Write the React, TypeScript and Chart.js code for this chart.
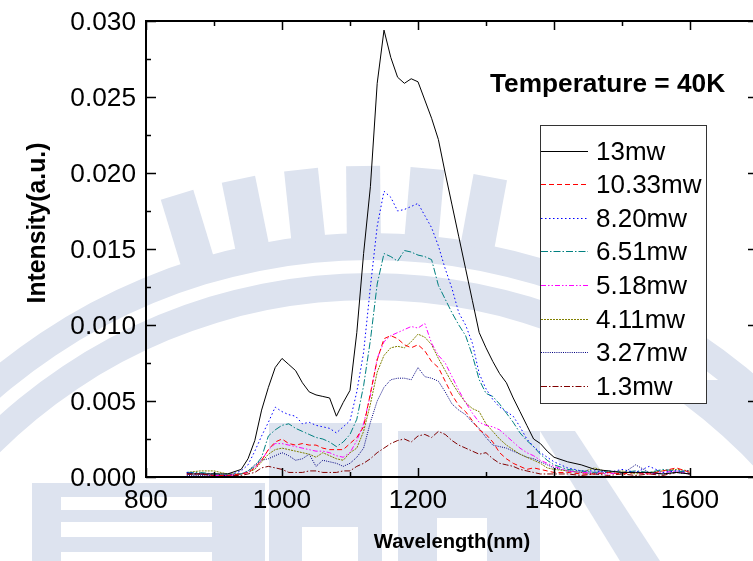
import React, { useEffect, useRef } from "react";
import { Chart, registerables } from "chart.js";

Chart.register(...registerables);

// ---------------- data ----------------
const WAVELENGTH = [
  860, 880, 900, 920,
  940, 950, 960, 970, 980, 990, 1000, 1010, 1020, 1030, 1040, 1050, 1060, 1070, 1080, 1090,
  1100, 1110, 1120, 1130, 1140, 1150, 1160, 1170, 1180, 1190, 1200, 1210, 1220, 1230, 1240,
  1250, 1260, 1270, 1280, 1290, 1300, 1310, 1320, 1330, 1340, 1350, 1360, 1370, 1380, 1390, 1400,
  1420, 1440, 1460, 1480, 1500, 1520, 1540, 1560, 1580, 1600,
];

const P_13 = [
  0.0002, 0.0002, 0.0002, 0.0002,
  0.0005, 0.0012, 0.0024, 0.0044, 0.0059, 0.0072, 0.0078, 0.0074, 0.0070, 0.0062, 0.0056, 0.0054, 0.0053, 0.0052, 0.0040, 0.0049,
  0.0057, 0.0095, 0.0147, 0.0191, 0.0259, 0.0294, 0.0276, 0.0263, 0.0259, 0.0262, 0.0260, 0.0248, 0.0236, 0.0222, 0.0200,
  0.0179, 0.0158, 0.0137, 0.0116, 0.0095, 0.0085, 0.0076, 0.0068, 0.0062, 0.0052, 0.0043, 0.0034, 0.0025, 0.0022, 0.0017, 0.0013,
  0.0010, 0.0008, 0.0005, 0.0004, 0.0003, 0.0003, 0.0003, 0.0002, 0.0003, 0.0002,
];

const P_10_33 = [
  0.0002, 0.0002, 0.0001, 0.0001,
  0.0002, 0.0003, 0.0006, 0.0011, 0.0018, 0.0023, 0.0025, 0.0022, 0.0021, 0.0022, 0.0021, 0.0021, 0.0019, 0.0018, 0.0018, 0.0018,
  0.0022, 0.0026, 0.0033, 0.0055, 0.0077, 0.0091, 0.0093, 0.0091, 0.0087, 0.0085, 0.0087, 0.0083, 0.0076, 0.0072, 0.0063,
  0.0054, 0.0047, 0.0043, 0.0037, 0.0031, 0.0028, 0.0023, 0.0016, 0.0012, 0.0009, 0.0007, 0.0005, 0.0006, 0.0005, 0.0004, 0.0003,
  0.0003, 0.0002, 0.0002, 0.0003, 0.0002, 0.0003, 0.0002, 0.0004, 0.0006, 0.0003,
];

const P_8_20 = [
  0.0003, 0.0002, 0.0002, 0.0001,
  0.0004, 0.0008, 0.0017, 0.0027, 0.0036, 0.0046, 0.0043, 0.0041, 0.0040, 0.0035, 0.0036, 0.0034, 0.0033, 0.0032, 0.0029, 0.0033,
  0.0037, 0.0056, 0.0082, 0.0125, 0.0165, 0.0188, 0.0184, 0.0175, 0.0176, 0.0178, 0.0180, 0.0172, 0.0164, 0.0152, 0.0137,
  0.0124, 0.0108, 0.0100, 0.0088, 0.0068, 0.0058, 0.0051, 0.0046, 0.0043, 0.0040, 0.0033, 0.0025, 0.0020, 0.0016, 0.0013, 0.0010,
  0.0006, 0.0004, 0.0004, 0.0003, 0.0005, 0.0003, 0.0007, 0.0003, 0.0004, 0.0004,
];

const P_6_51 = [
  0.0003, 0.0003, 0.0002, 0.0002,
  0.0002, 0.0004, 0.0007, 0.0013, 0.0027, 0.0031, 0.0034, 0.0035, 0.0032, 0.0030, 0.0028, 0.0026, 0.0025, 0.0023, 0.0020, 0.0023,
  0.0028, 0.0038, 0.0060, 0.0090, 0.0127, 0.0147, 0.0145, 0.0142, 0.0149, 0.0148, 0.0146, 0.0145, 0.0143, 0.0126, 0.0117,
  0.0108, 0.0100, 0.0093, 0.0080, 0.0064, 0.0055, 0.0053, 0.0048, 0.0042, 0.0036, 0.0029, 0.0024, 0.0020, 0.0015, 0.0011, 0.0008,
  0.0005, 0.0004, 0.0003, 0.0004, 0.0003, 0.0004, 0.0003, 0.0005, 0.0004, 0.0003,
];

const P_5_18 = [
  0.0002, 0.0002, 0.0001, 0.0001,
  0.0002, 0.0003, 0.0006, 0.0011, 0.0018, 0.0022, 0.0022, 0.0021, 0.0020, 0.0019, 0.0018, 0.0017, 0.0017, 0.0016, 0.0014, 0.0013,
  0.0016, 0.0024, 0.0035, 0.0054, 0.0078, 0.0089, 0.0093, 0.0095, 0.0097, 0.0099, 0.0098, 0.0101, 0.0088, 0.0080, 0.0075,
  0.0066, 0.0057, 0.0049, 0.0042, 0.0036, 0.0034, 0.0033, 0.0031, 0.0027, 0.0023, 0.0019, 0.0016, 0.0014, 0.0011, 0.0009, 0.0007,
  0.0004, 0.0003, 0.0003, 0.0002, 0.0003, 0.0003, 0.0002, 0.0003, 0.0004, 0.0002,
];

const P_4_11 = [
  0.0003, 0.0004, 0.0004, 0.0002,
  0.0002, 0.0003, 0.0005, 0.0010, 0.0015, 0.0018, 0.0019, 0.0018, 0.0017, 0.0016, 0.0015, 0.0013, 0.0016, 0.0014, 0.0012, 0.0011,
  0.0016, 0.0019, 0.0030, 0.0048, 0.0069, 0.0080, 0.0085, 0.0086, 0.0085, 0.0089, 0.0094, 0.0092, 0.0087, 0.0078, 0.0070,
  0.0062, 0.0055, 0.0049, 0.0045, 0.0043, 0.0035, 0.0030, 0.0025, 0.0021, 0.0018, 0.0015, 0.0013, 0.0011, 0.0009, 0.0006, 0.0005,
  0.0004, 0.0003, 0.0006, 0.0003, 0.0004, 0.0002, 0.0003, 0.0004, 0.0005, 0.0004,
];

const P_3_27 = [
  0.0001, 0.0001, 0.0001, 0.0001,
  0.0002, 0.0004, 0.0008, 0.0011, 0.0012, 0.0014, 0.0016, 0.0014, 0.0011, 0.0012, 0.0015, 0.0007, 0.0011, 0.0010, 0.0009, 0.0007,
  0.0009, 0.0013, 0.0019, 0.0036, 0.0050, 0.0059, 0.0064, 0.0065, 0.0065, 0.0064, 0.0072, 0.0066, 0.0065, 0.0063, 0.0056,
  0.0048, 0.0044, 0.0041, 0.0036, 0.0032, 0.0026, 0.0021, 0.0020, 0.0019, 0.0017, 0.0015, 0.0013, 0.0012, 0.0010, 0.0008, 0.0006,
  0.0004, 0.0003, 0.0002, 0.0003, 0.0002, 0.0008, 0.0003, 0.0002, 0.0003, 0.0002,
];

const P_1_3 = [
  0.0002, 0.0002, 0.0001, 0.0001,
  0.0001, 0.0002, 0.0003, 0.0006, 0.0007, 0.0006, 0.0005, 0.0003, 0.0003, 0.0003, 0.0004, 0.0004, 0.0003, 0.0003, 0.0003, 0.0004,
  0.0004, 0.0007, 0.0009, 0.0012, 0.0016, 0.0019, 0.0022, 0.0024, 0.0025, 0.0023, 0.0027, 0.0028, 0.0026, 0.0030, 0.0028,
  0.0024, 0.0021, 0.0019, 0.0017, 0.0015, 0.0016, 0.0012, 0.0009, 0.0008, 0.0007, 0.0005, 0.0004, 0.0003, 0.0002, 0.0002, 0.0002,
  0.0002, 0.0001, 0.0002, 0.0001, 0.0002, 0.0001, 0.0002, 0.0001, 0.0003, 0.0002,
];

const SERIES_LABELS = ["13mw", "10.33mw", "8.20mw", "6.51mw", "5.18mw", "4.11mw", "3.27mw", "1.3mw"];
const SERIES_VALUES = [P_13, P_10_33, P_8_20, P_6_51, P_5_18, P_4_11, P_3_27, P_1_3];
const SERIES_COLORS = ["#000000", "#ff0000", "#0000ff", "#008080", "#ff00ff", "#808000", "#000080", "#800000"];
const SERIES_DASHES = [[], [5, 3], [1.5, 2.5], [7, 2, 1.5, 2], [5, 2, 1.5, 2, 1.5, 2], [2, 1], [1, 1.2], [6, 2, 1.5, 2]];

const X_MAJOR = [800, 1000, 1200, 1400, 1600];
const X_MINOR = [900, 1100, 1300, 1500, 1700];
const Y_MAJOR = [0, 0.005, 0.01, 0.015, 0.02, 0.025, 0.03];
const Y_MINOR = [0.0025, 0.0075, 0.0125, 0.0175, 0.0225, 0.0275];

const TITLE_TEXT = "Temperature = 40K";
const X_TITLE = "Wavelength(nm)";
const Y_TITLE = "Intensity(a.u.)";

const FONT = "'Liberation Sans', Arial, sans-serif";
const CANVAS_W = 780;
const CANVAS_H = 561;
const WATERMARK = "#dde3ef";

function drawText(ctx: any, text: string, x: number, y: number, font: string, align: string, sx: number) {
  ctx.save();
  ctx.font = font;
  ctx.textBaseline = "alphabetic";
  ctx.fillStyle = "#000";
  const w = ctx.measureText(text).width * sx;
  let x0 = x;
  if (align === "center") x0 = x - w / 2;
  else if (align === "right") x0 = x - w;
  ctx.translate(x0, y);
  ctx.scale(sx, 1);
  ctx.textAlign = "left";
  ctx.fillText(text, 0, 0);
  ctx.restore();
}

// faint background emblem (page watermark, not data)
const watermarkPlugin = {
  id: "watermark",
  beforeDraw(chart: any) {
    const ctx = chart.ctx;
    ctx.save();
    ctx.fillStyle = "#fff";
    ctx.fillRect(0, 0, chart.width, chart.height);
    ctx.fillStyle = WATERMARK;
    const cx = 370, cy = 826;
    const ring = (r1: number, r2: number) => {
      ctx.beginPath();
      ctx.arc(cx, cy, r1, Math.PI, 2 * Math.PI);
      ctx.arc(cx, cy, r2, 2 * Math.PI, Math.PI, true);
      ctx.closePath();
      ctx.fill();
    };
    ring(593, 566);
    ring(553, 526);
    [-17, -11.5, -6, -0.6, 5, 10.5].forEach((deg) => {
      ctx.save();
      ctx.translate(cx, cy);
      ctx.rotate((deg * Math.PI) / 180);
      ctx.fillRect(-17, -660, 34, 72);
      ctx.restore();
    });
    // lower emblem blocks
    ctx.fillRect(32, 483, 233, 78);
    ctx.fillRect(269, 423, 113, 138);
    ctx.fillRect(398, 431, 142, 130);
    ctx.beginPath();
    ctx.moveTo(540, 431);
    ctx.lineTo(575, 431);
    ctx.lineTo(660, 561);
    ctx.lineTo(620, 561);
    ctx.closePath();
    ctx.fill();
    ctx.beginPath();
    ctx.moveTo(690, 380);
    ctx.lineTo(753, 380);
    ctx.lineTo(753, 440);
    ctx.closePath();
    ctx.fill();
    ctx.fillStyle = "#fff";
    ctx.fillRect(61, 497, 151, 13);
    ctx.fillRect(61, 522, 151, 15);
    ctx.fillRect(61, 552, 151, 9);
    ctx.fillRect(302, 527, 56, 34);
    ctx.fillRect(437, 518, 50, 43);
    ctx.restore();
  },
};

const framePlugin = {
  id: "frame",
  afterDatasetsDraw(chart: any) {
    const { ctx, chartArea } = chart;
    const xs = chart.scales.x;
    const ys = chart.scales.y;
    const { left, right, top, bottom } = chartArea;
    ctx.save();
    ctx.strokeStyle = "#000";
    ctx.setLineDash([]);
    ctx.lineWidth = 2;
    ctx.strokeRect(left, top, right - left, bottom - top);
    ctx.lineWidth = 1.5;
    const xt = (vals: number[], len: number) => {
      vals.forEach((v) => {
        const px = Math.round(xs.getPixelForValue(v)) + 0.5;
        ctx.beginPath();
        ctx.moveTo(px, bottom);
        ctx.lineTo(px, bottom - len);
        ctx.moveTo(px, top);
        ctx.lineTo(px, top + len);
        ctx.stroke();
      });
    };
    const yt = (vals: number[], len: number) => {
      vals.forEach((v) => {
        const py = Math.round(ys.getPixelForValue(v)) + 0.5;
        ctx.beginPath();
        ctx.moveTo(left, py);
        ctx.lineTo(left + len, py);
        ctx.moveTo(right, py);
        ctx.lineTo(right - len, py);
        ctx.stroke();
      });
    };
    xt(X_MAJOR, 9);
    xt(X_MINOR, 5);
    yt(Y_MAJOR, 10);
    yt(Y_MINOR, 5);

    const tickFont = `25px ${FONT}`;
    X_MAJOR.forEach((v) => {
      drawText(ctx, String(v), xs.getPixelForValue(v), 508, tickFont, "center", 1.05);
    });
    Y_MAJOR.forEach((v) => {
      drawText(ctx, v.toFixed(3), left - 10, ys.getPixelForValue(v) + 8.8, tickFont, "right", 1.05);
    });

    drawText(ctx, TITLE_TEXT, 490, 91.5, `bold 25px ${FONT}`, "left", 1.05);

    // legend
    const bx = 540, by = 125, bw = 166, bh = 278;
    ctx.fillStyle = "#fff";
    ctx.fillRect(bx, by, bw, bh);
    ctx.lineWidth = 1;
    ctx.strokeStyle = "#333";
    ctx.strokeRect(bx + 0.5, by + 0.5, bw, bh);
    chart.data.datasets.forEach((ds: any, i: number) => {
      const y = Math.round(150.5 + i * 33.6) + 0.5;
      ctx.strokeStyle = ds.borderColor;
      ctx.lineWidth = 1.2;
      ctx.setLineDash(ds.borderDash || []);
      ctx.beginPath();
      ctx.moveTo(bx + 1, y);
      ctx.lineTo(bx + 48, y);
      ctx.stroke();
      ctx.setLineDash([]);
      drawText(ctx, ds.label, 596, y + 8.8, `25px ${FONT}`, "left", 1.04);
    });

    drawText(ctx, X_TITLE, (left + right) / 2, 548, `bold 20px ${FONT}`, "center", 1.01);
    ctx.save();
    ctx.translate(45, 223);
    ctx.rotate(-Math.PI / 2);
    drawText(ctx, Y_TITLE, 0, 0, `bold 25px ${FONT}`, "center", 0.99);
    ctx.restore();
    ctx.restore();
  },
};

export default function App() {
  const canvasRef = useRef<HTMLCanvasElement | null>(null);

  useEffect(() => {
    const canvas = canvasRef.current;
    if (!canvas) return;
    const datasets = SERIES_LABELS.map((label, i) => ({
      label,
      data: WAVELENGTH.map((w, j) => ({ x: w, y: SERIES_VALUES[i][j] })),
      borderColor: SERIES_COLORS[i],
      backgroundColor: SERIES_COLORS[i],
      borderDash: SERIES_DASHES[i],
      borderWidth: 1,
      pointRadius: 0,
      tension: 0,
      fill: false,
    }));
    const hidden = { display: false, drawTicks: false };
    const chart = new Chart(canvas, {
      type: "line",
      data: { datasets },
      options: {
        responsive: false,
        animation: false,
        devicePixelRatio: 1,
        layout: { padding: 0 },
        plugins: { legend: { display: false }, tooltip: { enabled: false }, title: { display: false } },
        scales: {
          x: {
            type: "linear",
            position: "bottom",
            min: 800,
            max: 1700,
            grid: hidden,
            border: { display: false },
            ticks: { display: false },
            afterFit: (s: any) => {
              s.height = 84;
            },
          },
          xTop: {
            type: "linear",
            position: "top",
            min: 800,
            max: 1700,
            grid: hidden,
            border: { display: false },
            ticks: { display: false },
            afterFit: (s: any) => {
              s.height = 21;
            },
          },
          y: {
            type: "linear",
            position: "left",
            min: 0,
            max: 0.03,
            grid: hidden,
            border: { display: false },
            ticks: { display: false },
            afterFit: (s: any) => {
              s.width = 146;
            },
          },
          yRight: {
            type: "linear",
            position: "right",
            min: 0,
            max: 0.03,
            grid: hidden,
            border: { display: false },
            ticks: { display: false },
            afterFit: (s: any) => {
              s.width = CANVAS_W - 758;
            },
          },
        },
      } as any,
      plugins: [watermarkPlugin, framePlugin],
    });
    return () => chart.destroy();
  }, []);

  return (
    <div
      style={{
        position: "fixed",
        left: 0,
        top: 0,
        width: 753,
        height: 561,
        overflow: "hidden",
        background: "#fff",
      }}
    >
      <canvas ref={canvasRef} width={CANVAS_W} height={CANVAS_H} style={{ display: "block" }} />
    </div>
  );
}
